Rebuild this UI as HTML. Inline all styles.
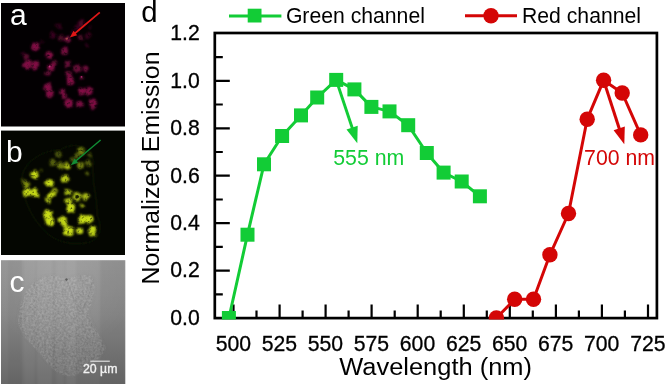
<!DOCTYPE html>
<html lang="en"><head><meta charset="utf-8"><title>Figure</title>
<style>html,body{margin:0;padding:0;background:#fff;}svg{display:block;}text{font-family:"Liberation Sans",sans-serif;}</style></head><body>
<svg width="666" height="384" viewBox="0 0 666 384">
<defs>
<filter id="b1" x="-50%" y="-50%" width="200%" height="200%"><feGaussianBlur stdDeviation="1.1"/></filter>
<filter id="bd" x="-10%" y="-10%" width="120%" height="120%"><feTurbulence type="fractalNoise" baseFrequency="0.22" numOctaves="2" seed="7" result="t"/><feDisplacementMap in="SourceGraphic" in2="t" scale="5" xChannelSelector="R" yChannelSelector="G"/><feGaussianBlur stdDeviation="0.8" result="g"/><feTurbulence type="fractalNoise" baseFrequency="0.4" numOctaves="2" seed="11" result="n"/><feColorMatrix in="n" type="matrix" values="0 0 0 0 1  0 0 0 0 1  0 0 0 0 1  2.0 0 0 0 0.05" result="m"/><feComposite in="g" in2="m" operator="in"/><feGaussianBlur stdDeviation="0.35"/></filter>
<filter id="b2" x="-50%" y="-50%" width="200%" height="200%"><feGaussianBlur stdDeviation="0.7"/></filter>
<filter id="b3" x="-50%" y="-50%" width="200%" height="200%"><feGaussianBlur stdDeviation="3"/></filter>
<clipPath id="plotclip"><rect x="0" y="0" width="666" height="319.5"/></clipPath>
</defs>
<rect width="666" height="384" fill="#fff"/>
<defs>
<clipPath id="ca"><rect x="1" y="3" width="124" height="123.5"/></clipPath>
<clipPath id="cb"><rect x="1" y="130.6" width="124" height="124.4"/></clipPath>
<clipPath id="cc"><rect x="1" y="260.2" width="124.3" height="124"/></clipPath>
<linearGradient id="gc" x1="0" y1="0" x2="0" y2="1"><stop offset="0" stop-color="#959595"/><stop offset="0.45" stop-color="#888888"/><stop offset="1" stop-color="#686868"/></linearGradient>
<radialGradient id="gh" cx="0.5" cy="0.15" r="0.6"><stop offset="0" stop-color="#fff" stop-opacity="0.11"/><stop offset="1" stop-color="#fff" stop-opacity="0"/></radialGradient>
<filter id="noise" x="0" y="0" width="100%" height="100%" color-interpolation-filters="sRGB"><feTurbulence type="fractalNoise" baseFrequency="0.45" numOctaves="2" seed="3" result="t"/><feColorMatrix type="matrix" values="1.5 0 0 0 -0.13  1.5 0 0 0 -0.13  1.5 0 0 0 -0.13  0 0 0 0 0.22"/><feComposite in2="SourceGraphic" operator="in"/><feGaussianBlur stdDeviation="0.45"/></filter>
</defs>
<g id="panels">
<rect x="1" y="3" width="124" height="123.5" fill="#030002"/>
<g clip-path="url(#ca)"><g filter="url(#bd)">
<circle cx="35.0" cy="47.0" r="3.9" fill="rgb(150,18,80)" fill-opacity="0.85"/>
<circle cx="26.4" cy="56.8" r="2.9" fill="rgb(116,13,62)" fill-opacity="0.76"/>
<circle cx="27.2" cy="64.6" r="4.1" fill="rgb(150,18,80)" fill-opacity="0.85"/>
<circle cx="35.3" cy="64.9" r="3.9" fill="rgb(150,18,80)" fill-opacity="0.85"/>
<circle cx="49.4" cy="54.8" r="3.9" fill="rgb(150,18,80)" fill-opacity="0.85"/>
<circle cx="64.7" cy="51.3" r="3.7" fill="rgb(138,16,74)" fill-opacity="0.82"/>
<circle cx="60.8" cy="38.1" r="3.2" fill="rgb(99,11,53)" fill-opacity="0.72"/>
<circle cx="67.8" cy="38.9" r="2.9" fill="rgb(138,16,74)" fill-opacity="0.82"/>
<circle cx="53.0" cy="35.0" r="2.9" fill="rgb(82,9,44)" fill-opacity="0.67"/>
<circle cx="58.4" cy="26.3" r="2.8" fill="rgb(71,8,38)" fill-opacity="0.64"/>
<circle cx="81.0" cy="23.3" r="3.7" fill="rgb(99,11,53)" fill-opacity="0.72"/>
<circle cx="77.0" cy="27.9" r="2.8" fill="rgb(77,8,41)" fill-opacity="0.66"/>
<circle cx="80.3" cy="37.3" r="2.9" fill="rgb(105,12,56)" fill-opacity="0.73"/>
<circle cx="88.0" cy="35.7" r="2.8" fill="rgb(82,9,44)" fill-opacity="0.67"/>
<circle cx="86.6" cy="45.9" r="1.8" fill="rgb(82,9,44)" fill-opacity="0.67"/>
<circle cx="54.5" cy="63.1" r="2.9" fill="rgb(116,13,62)" fill-opacity="0.76"/>
<circle cx="51.4" cy="67.0" r="3.2" fill="rgb(150,18,80)" fill-opacity="0.85"/>
<circle cx="47.8" cy="72.9" r="2.6" fill="rgb(127,15,68)" fill-opacity="0.79"/>
<circle cx="67.8" cy="63.9" r="3.2" fill="rgb(127,15,68)" fill-opacity="0.79"/>
<circle cx="77.2" cy="68.9" r="4.2" fill="rgb(127,15,68)" fill-opacity="0.79"/>
<circle cx="85.8" cy="68.9" r="3.3" fill="rgb(133,15,71)" fill-opacity="0.81"/>
<circle cx="68.6" cy="74.0" r="3.3" fill="rgb(138,16,74)" fill-opacity="0.82"/>
<circle cx="70.6" cy="80.3" r="4.0" fill="rgb(150,18,80)" fill-opacity="0.85"/>
<circle cx="82.2" cy="78.3" r="1.8" fill="rgb(138,16,74)" fill-opacity="0.82"/>
<circle cx="47.8" cy="87.0" r="4.0" fill="rgb(150,18,80)" fill-opacity="0.85"/>
<circle cx="49.8" cy="93.3" r="4.0" fill="rgb(150,18,80)" fill-opacity="0.85"/>
<circle cx="62.3" cy="92.0" r="3.3" fill="rgb(144,17,77)" fill-opacity="0.83"/>
<circle cx="63.9" cy="95.9" r="3.1" fill="rgb(144,17,77)" fill-opacity="0.83"/>
<circle cx="82.2" cy="91.7" r="3.7" fill="rgb(150,18,80)" fill-opacity="0.85"/>
<circle cx="89.4" cy="91.3" r="3.7" fill="rgb(150,18,80)" fill-opacity="0.85"/>
<circle cx="68.6" cy="103.3" r="4.4" fill="rgb(150,18,80)" fill-opacity="0.85"/>
<circle cx="79.5" cy="103.7" r="3.3" fill="rgb(144,17,77)" fill-opacity="0.83"/>
<circle cx="92.8" cy="102.3" r="3.9" fill="rgb(150,18,80)" fill-opacity="0.85"/>
<circle cx="92.8" cy="105.8" r="3.3" fill="rgb(138,16,74)" fill-opacity="0.82"/>
<circle cx="23.0" cy="53.3" r="2.0" fill="rgb(71,8,38)" fill-opacity="0.64"/>
<circle cx="42.0" cy="42.3" r="1.8" fill="rgb(66,7,35)" fill-opacity="0.62"/>
<circle cx="73.0" cy="32.3" r="2.0" fill="rgb(71,8,38)" fill-opacity="0.64"/>
<circle cx="90.0" cy="27.3" r="1.8" fill="rgb(66,7,35)" fill-opacity="0.62"/>
</g>
<circle cx="66.8" cy="38.6" r="1.2" fill="#a04444" filter="url(#b2)"/>
<circle cx="49.7" cy="66.5" r="0.9" fill="#c03080" filter="url(#b2)"/>
<circle cx="81.5" cy="76.8" r="0.9" fill="#b02870" filter="url(#b2)"/>
</g>
<g filter="url(#b2)"><line x1="99.8" y1="12.3" x2="73" y2="35" stroke="#e01818" stroke-width="1.7"/><polygon points="69.8,37.6 77.2,35.2 73.6,30.8" fill="#e01818"/></g>
<rect x="1" y="130.6" width="124" height="124.4" fill="#040601"/>
<g clip-path="url(#cb)">
<path d="M22 182 C 20 165 40 150 60 150 C 75 140 95 148 93 165 C 92 185 98 200 97 215 C 104 230 98 242 85 243 C 65 246 50 238 42 228 C 30 215 24 200 22 182 Z" fill="none" stroke="#181f06" stroke-width="0.9" filter="url(#b1)"/>
<g filter="url(#bd)">
<circle cx="35.0" cy="174.7" r="4.3" fill="rgb(200,220,24)" fill-opacity="1.00"/>
<circle cx="26.4" cy="184.5" r="3.3" fill="rgb(158,175,19)" fill-opacity="0.86"/>
<circle cx="27.2" cy="192.3" r="4.6" fill="rgb(200,220,24)" fill-opacity="1.00"/>
<circle cx="35.3" cy="192.6" r="4.3" fill="rgb(200,220,24)" fill-opacity="1.00"/>
<circle cx="49.4" cy="182.5" r="4.3" fill="rgb(200,220,24)" fill-opacity="1.00"/>
<circle cx="64.7" cy="179.0" r="4.1" fill="rgb(186,205,22)" fill-opacity="0.96"/>
<circle cx="60.8" cy="165.8" r="3.6" fill="rgb(137,152,16)" fill-opacity="0.80"/>
<circle cx="67.8" cy="166.6" r="3.3" fill="rgb(186,205,22)" fill-opacity="0.96"/>
<circle cx="53.0" cy="162.7" r="3.3" fill="rgb(116,130,14)" fill-opacity="0.73"/>
<circle cx="58.4" cy="154.0" r="3.1" fill="rgb(102,115,12)" fill-opacity="0.69"/>
<circle cx="81.0" cy="151.0" r="4.1" fill="rgb(137,152,16)" fill-opacity="0.80"/>
<circle cx="77.0" cy="155.6" r="3.1" fill="rgb(109,122,13)" fill-opacity="0.71"/>
<circle cx="80.3" cy="165.0" r="3.3" fill="rgb(144,160,17)" fill-opacity="0.82"/>
<circle cx="88.0" cy="163.4" r="3.1" fill="rgb(116,130,14)" fill-opacity="0.73"/>
<circle cx="86.6" cy="173.6" r="2.0" fill="rgb(116,130,14)" fill-opacity="0.73"/>
<circle cx="54.5" cy="190.8" r="3.3" fill="rgb(158,175,19)" fill-opacity="0.86"/>
<circle cx="51.4" cy="194.7" r="3.6" fill="rgb(200,220,24)" fill-opacity="1.00"/>
<circle cx="47.8" cy="200.6" r="2.9" fill="rgb(172,190,20)" fill-opacity="0.91"/>
<circle cx="67.8" cy="191.6" r="3.6" fill="rgb(172,190,20)" fill-opacity="0.91"/>
<circle cx="77.2" cy="196.6" r="4.7" fill="rgb(172,190,20)" fill-opacity="0.91"/>
<circle cx="85.8" cy="196.6" r="3.7" fill="rgb(179,197,21)" fill-opacity="0.93"/>
<circle cx="68.6" cy="201.7" r="3.7" fill="rgb(186,205,22)" fill-opacity="0.96"/>
<circle cx="70.6" cy="208.0" r="4.5" fill="rgb(200,220,24)" fill-opacity="1.00"/>
<circle cx="82.2" cy="206.0" r="2.0" fill="rgb(186,205,22)" fill-opacity="0.96"/>
<circle cx="47.8" cy="214.7" r="4.5" fill="rgb(200,220,24)" fill-opacity="1.00"/>
<circle cx="49.8" cy="221.0" r="4.5" fill="rgb(200,220,24)" fill-opacity="1.00"/>
<circle cx="62.3" cy="219.7" r="3.7" fill="rgb(193,212,23)" fill-opacity="0.98"/>
<circle cx="63.9" cy="223.6" r="3.5" fill="rgb(193,212,23)" fill-opacity="0.98"/>
<circle cx="82.2" cy="219.4" r="4.1" fill="rgb(200,220,24)" fill-opacity="1.00"/>
<circle cx="89.4" cy="219.0" r="4.1" fill="rgb(200,220,24)" fill-opacity="1.00"/>
<circle cx="68.6" cy="231.0" r="4.9" fill="rgb(200,220,24)" fill-opacity="1.00"/>
<circle cx="79.5" cy="231.4" r="3.7" fill="rgb(193,212,23)" fill-opacity="0.98"/>
<circle cx="92.8" cy="230.0" r="4.3" fill="rgb(200,220,24)" fill-opacity="1.00"/>
<circle cx="92.8" cy="233.5" r="3.7" fill="rgb(186,205,22)" fill-opacity="0.96"/>
<circle cx="23.0" cy="181.0" r="2.2" fill="rgb(102,115,12)" fill-opacity="0.69"/>
<circle cx="42.0" cy="170.0" r="2.0" fill="rgb(95,107,12)" fill-opacity="0.66"/>
<circle cx="73.0" cy="160.0" r="2.2" fill="rgb(102,115,12)" fill-opacity="0.69"/>
<circle cx="90.0" cy="155.0" r="2.0" fill="rgb(95,107,12)" fill-opacity="0.66"/>
</g>
<circle cx="77.2" cy="196.8" r="1.8" fill="#1a2004" filter="url(#b2)"/>
</g>
<g filter="url(#b2)"><line x1="100.6" y1="140" x2="74" y2="162.5" stroke="#128c34" stroke-width="1.5"/><polygon points="70.8,165.2 78.2,162.8 74.6,158.4" fill="#128c34"/></g>
<rect x="1" y="260.2" width="124.3" height="124" fill="url(#gc)"/>
<g clip-path="url(#cc)">
<rect x="1" y="260.2" width="124.3" height="124" fill="url(#gh)"/>
<g filter="url(#b1)">
<rect x="37" y="250" width="15" height="144" fill="#fff" fill-opacity="0.05"/>
<rect x="56" y="250" width="8" height="144" fill="#fff" fill-opacity="0.04"/>
<rect x="66" y="250" width="10" height="144" fill="#fff" fill-opacity="0.05"/>
<rect x="24" y="250" width="11" height="144" fill="#fff" fill-opacity="0.04"/>
<rect x="8" y="250" width="14" height="144" fill="#000" fill-opacity="0.04"/>
<rect x="100" y="250" width="25" height="144" fill="#000" fill-opacity="0.05"/>
</g>
<path d="M33 283 C 40 276 55 272 66 279 C 75 276 88 272 93 278 C 97 290 92 305 88 312 C 92 325 100 335 106 348 C 100 360 88 370 74 376 C 62 378 52 370 45 360 C 36 348 22 338 18 324 C 18 305 24 292 33 283 Z" fill="#fff" fill-opacity="0.03" stroke="#555" stroke-opacity="0.16" stroke-width="0.8" filter="url(#b1)"/>
<path d="M33 283 C 40 276 55 272 66 279 C 75 276 88 272 93 278 C 97 290 92 305 88 312 C 92 325 100 335 106 348 C 100 360 88 370 74 376 C 62 378 52 370 45 360 C 36 348 22 338 18 324 C 18 305 24 292 33 283 Z" fill="#fff" fill-opacity="0.5" filter="url(#noise)"/>
<path d="M66 279 C 72 290 74 305 80 312 C 84 308 90 295 92 282" fill="none" stroke="#5a5a5a" stroke-opacity="0.2" stroke-width="0.9" filter="url(#b2)"/>
<circle cx="66.5" cy="279.5" r="1.2" fill="#444" fill-opacity="0.7" filter="url(#b2)"/>
</g>
<line x1="90.3" y1="361.2" x2="109.8" y2="361.2" stroke="#e8e8e8" stroke-width="1.1"/>
<text x="83" y="373.3" font-size="12.3" fill="#f2f2f2" stroke="#f2f2f2" stroke-width="0.35">20 µm</text>
<text x="10" y="25" font-size="30" fill="#fff">a</text>
<text x="6" y="162" font-size="30" fill="#fff">b</text>
<text x="9.5" y="292.4" font-size="30" fill="#fff">c</text>
</g>
<g id="plot">
<path d="M214.8 294.4h8 M214.8 270.6h15 M214.8 246.9h8 M214.8 223.2h15 M214.8 199.5h8 M214.8 175.7h15 M214.8 152.0h8 M214.8 128.3h15 M214.8 104.5h8 M214.8 80.8h15 M214.8 57.1h8 M233.5 318.1v-13.5 M256.5 318.1v-7.5 M279.6 318.1v-13.5 M302.6 318.1v-7.5 M325.6 318.1v-13.5 M348.6 318.1v-7.5 M371.6 318.1v-13.5 M394.7 318.1v-7.5 M417.7 318.1v-13.5 M440.7 318.1v-7.5 M463.8 318.1v-13.5 M486.8 318.1v-7.5 M509.8 318.1v-13.5 M532.8 318.1v-7.5 M555.9 318.1v-13.5 M578.9 318.1v-7.5 M601.9 318.1v-13.5 M624.9 318.1v-7.5 M648.0 318.1v-13.5" stroke="#000" stroke-width="2.2" fill="none"/>
<rect x="214.8" y="33.0" width="442.1" height="285.1" fill="none" stroke="#000" stroke-width="2.7"/>
<text transform="translate(199.8,324.9) scale(1,1.06)" font-size="21.2" text-anchor="end" stroke="#000" stroke-width="0.3">0.0</text>
<text transform="translate(199.8,277.4) scale(1,1.06)" font-size="21.2" text-anchor="end" stroke="#000" stroke-width="0.3">0.2</text>
<text transform="translate(199.8,230.0) scale(1,1.06)" font-size="21.2" text-anchor="end" stroke="#000" stroke-width="0.3">0.4</text>
<text transform="translate(199.8,182.5) scale(1,1.06)" font-size="21.2" text-anchor="end" stroke="#000" stroke-width="0.3">0.6</text>
<text transform="translate(199.8,135.1) scale(1,1.06)" font-size="21.2" text-anchor="end" stroke="#000" stroke-width="0.3">0.8</text>
<text transform="translate(199.8,87.6) scale(1,1.06)" font-size="21.2" text-anchor="end" stroke="#000" stroke-width="0.3">1.0</text>
<text transform="translate(199.8,40.1) scale(1,1.06)" font-size="21.2" text-anchor="end" stroke="#000" stroke-width="0.3">1.2</text>
<text transform="translate(233.3,350.6) scale(1,1.06)" font-size="21.2" text-anchor="middle" stroke="#000" stroke-width="0.3">500</text>
<text transform="translate(279.4,350.6) scale(1,1.06)" font-size="21.2" text-anchor="middle" stroke="#000" stroke-width="0.3">525</text>
<text transform="translate(325.4,350.6) scale(1,1.06)" font-size="21.2" text-anchor="middle" stroke="#000" stroke-width="0.3">550</text>
<text transform="translate(371.4,350.6) scale(1,1.06)" font-size="21.2" text-anchor="middle" stroke="#000" stroke-width="0.3">575</text>
<text transform="translate(417.5,350.6) scale(1,1.06)" font-size="21.2" text-anchor="middle" stroke="#000" stroke-width="0.3">600</text>
<text transform="translate(463.6,350.6) scale(1,1.06)" font-size="21.2" text-anchor="middle" stroke="#000" stroke-width="0.3">625</text>
<text transform="translate(509.6,350.6) scale(1,1.06)" font-size="21.2" text-anchor="middle" stroke="#000" stroke-width="0.3">650</text>
<text transform="translate(555.6,350.6) scale(1,1.06)" font-size="21.2" text-anchor="middle" stroke="#000" stroke-width="0.3">675</text>
<text transform="translate(601.7,350.6) scale(1,1.06)" font-size="21.2" text-anchor="middle" stroke="#000" stroke-width="0.3">700</text>
<text transform="translate(647.8,350.6) scale(1,1.06)" font-size="21.2" text-anchor="middle" stroke="#000" stroke-width="0.3">725</text>
<text transform="translate(435.6,374.9) scale(1.035,1)" font-size="24.6" text-anchor="middle">Wavelength (nm)</text>
<text transform="translate(159.0,168.0) rotate(-90)" font-size="24.8" text-anchor="middle">Normalized Emission</text>
<text x="141.2" y="21.8" font-size="29.4">d</text>
<g clip-path="url(#plotclip)">
<polyline points="228.9,318.0 247.5,234.7 264.0,164.3 282.1,136.0 301.0,115.4 317.2,97.5 336.2,79.9 354.4,89.4 371.4,106.9 389.5,111.4 408.2,125.2 426.8,153.0 443.6,172.6 461.7,181.5 479.9,196.3" fill="none" stroke="#12cc36" stroke-width="3" stroke-linejoin="round"/>
<rect x="221.9" y="311.0" width="14" height="14" fill="#12cc36"/>
<rect x="240.5" y="227.7" width="14" height="14" fill="#12cc36"/>
<rect x="257.0" y="157.3" width="14" height="14" fill="#12cc36"/>
<rect x="275.1" y="129.0" width="14" height="14" fill="#12cc36"/>
<rect x="294.0" y="108.4" width="14" height="14" fill="#12cc36"/>
<rect x="310.2" y="90.5" width="14" height="14" fill="#12cc36"/>
<rect x="329.2" y="72.9" width="14" height="14" fill="#12cc36"/>
<rect x="347.4" y="82.4" width="14" height="14" fill="#12cc36"/>
<rect x="364.4" y="99.9" width="14" height="14" fill="#12cc36"/>
<rect x="382.5" y="104.4" width="14" height="14" fill="#12cc36"/>
<rect x="401.2" y="118.2" width="14" height="14" fill="#12cc36"/>
<rect x="419.8" y="146.0" width="14" height="14" fill="#12cc36"/>
<rect x="436.6" y="165.6" width="14" height="14" fill="#12cc36"/>
<rect x="454.7" y="174.5" width="14" height="14" fill="#12cc36"/>
<rect x="472.9" y="189.3" width="14" height="14" fill="#12cc36"/>
<polyline points="496.4,318.0 514.7,299.3 533.5,299.3 549.9,254.8 568.5,213.5 587.2,119.2 603.6,80.3 622.2,93.0 640.7,134.9" fill="none" stroke="#d40606" stroke-width="3" stroke-linejoin="round"/>
<circle cx="496.4" cy="318.0" r="7.7" fill="#d40606"/>
<circle cx="514.7" cy="299.3" r="7.7" fill="#d40606"/>
<circle cx="533.5" cy="299.3" r="7.7" fill="#d40606"/>
<circle cx="549.9" cy="254.8" r="7.7" fill="#d40606"/>
<circle cx="568.5" cy="213.5" r="7.7" fill="#d40606"/>
<circle cx="587.2" cy="119.2" r="7.7" fill="#d40606"/>
<circle cx="603.6" cy="80.3" r="7.7" fill="#d40606"/>
<circle cx="622.2" cy="93.0" r="7.7" fill="#d40606"/>
<circle cx="640.7" cy="134.9" r="7.7" fill="#d40606"/>
</g>
<line x1="336.2" y1="79.9" x2="352.7" y2="129.4" stroke="#12cc36" stroke-width="3.0"/><polygon points="357.3,143.3 346.5,129.4 357.7,125.7" fill="#12cc36"/>
<line x1="603.6" y1="80.3" x2="619.8" y2="130.3" stroke="#d40606" stroke-width="3.0"/><polygon points="624.3,144.2 613.6,130.2 624.8,126.6" fill="#d40606"/>
<text transform="translate(333.2,165.3) scale(1,1.05)" font-size="21.3" fill="#12cc36">555 nm</text>
<text transform="translate(584.1,165.4) scale(1,1.03)" font-size="21.3" fill="#d40606">700 nm</text>
<line x1="229" y1="16" x2="281.4" y2="16" stroke="#12cc36" stroke-width="3"/>
<rect x="247.7" y="8.7" width="13.8" height="13.8" fill="#12cc36"/>
<text x="285.9" y="23.4" font-size="21.2">Green channel</text>
<line x1="465" y1="15.8" x2="517" y2="15.8" stroke="#d40606" stroke-width="3"/>
<circle cx="491" cy="15.8" r="7.7" fill="#d40606"/>
<text x="522" y="23.4" font-size="21.2">Red channel</text>
</g>
</svg></body></html>
